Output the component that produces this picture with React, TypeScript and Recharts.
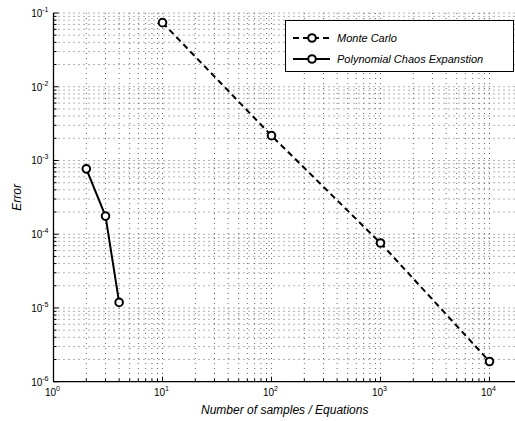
import React from 'react';
import { LineChart, Line, XAxis, YAxis, CartesianGrid, Legend } from 'recharts';

// Monte Carlo error vs number of samples
const mcSamples = [10, 100, 1000, 10000];
const mcError = [0.074, 0.00217, 0.000076, 0.00000188];

// Polynomial chaos error vs number of equations
const pceEquations = [2, 3, 4];
const pceError = [0.00077, 0.000176, 0.0000119];

const xDecades = [1, 10, 100, 1000, 10000];
const yDecades = [1e-6, 1e-5, 1e-4, 1e-3, 1e-2, 1e-1];

const FONT = '"Liberation Sans", Arial, Helvetica, sans-serif';

const mcData = mcSamples.map((x, i) => ({ x, y: mcError[i] }));
const pceData = pceEquations.map((x, i) => ({ x, y: pceError[i] }));

// decade ticks plus the 2..9 minor ticks in between
const withMinor = (decades: number[]) => {
  const out: number[] = [];
  decades.forEach((d, i) => {
    out.push(d);
    if (i < decades.length - 1) {
      for (let k = 2; k <= 9; k++) out.push(parseFloat((d * k).toPrecision(6)));
    }
  });
  return out;
};
const xTicks = withMinor(xDecades);
const yTicks = withMinor(yDecades);

const isDecade = (v: number) => Math.abs(Math.log10(v) - Math.round(Math.log10(v))) < 1e-6;
const expOf = (v: number) => Math.round(Math.log10(v));

const XTick = ({ x, y, payload, top }: any) => {
  const v = payload.value;
  const major = isDecade(v);
  const len = major ? 5 : 3;
  const dir = top ? 1 : -1;
  return (
    <g>
      <line x1={x} x2={x} y1={y} y2={y + dir * len} stroke="#000" strokeWidth={1} />
      {!top && major && (
        <text x={x - 1} y={y + 14} textAnchor="middle" fontSize={10} fontFamily={FONT} fill="#000">
          10<tspan dy={-5} fontSize={7}>{expOf(v)}</tspan>
        </text>
      )}
    </g>
  );
};

const YTick = ({ x, y, payload }: any) => {
  const v = payload.value;
  const major = isDecade(v);
  const len = major ? 5 : 3;
  return (
    <g>
      <line x1={x} x2={x + len} y1={y} y2={y} stroke="#000" strokeWidth={1} />
      {major && (
        <text x={x - 5} y={y + 4} textAnchor="end" fontSize={10} fontFamily={FONT} fill="#000">
          10<tspan dy={-5} fontSize={7}>{expOf(v)}</tspan>
        </text>
      )}
    </g>
  );
};

const XTitle = ({ viewBox }: any) => (
  <text
    x={viewBox.x + viewBox.width / 2}
    y={viewBox.y + 32}
    textAnchor="middle"
    fontSize={12}
    fontStyle="italic"
    fontFamily={FONT}
    fill="#000"
  >
    Number of samples / Equations
  </text>
);

const YTitle = ({ viewBox }: any) => {
  const cx = viewBox.x + 21;
  const cy = viewBox.y + viewBox.height / 2;
  return (
    <text
      x={cx}
      y={cy}
      transform={`rotate(-90 ${cx} ${cy})`}
      textAnchor="middle"
      fontSize={12}
      fontStyle="italic"
      fontFamily={FONT}
      fill="#000"
    >
      Error
    </text>
  );
};

const Marker = (props: any) => {
  const { cx, cy } = props;
  if (cx == null || cy == null) return null;
  return <circle cx={cx} cy={cy} r={3.8} stroke="#000" strokeWidth={2} fill="#fff" />;
};

const SERIES = [
  { name: 'Monte Carlo', dash: '6 4' },
  { name: 'Polynomial Chaos Expanstion', dash: undefined },
];

const LegendBox = () => (
  <div
    style={{
      width: 229,
      height: 52,
      border: '1px solid #000',
      background: '#fff',
      boxSizing: 'border-box',
    }}
  >
    <svg width={227} height={50}>
      {SERIES.map((s, i) => {
        const cy = 17 + i * 21;
        return (
          <g key={s.name}>
            <line x1={7} x2={44} y1={cy} y2={cy} stroke="#000" strokeWidth={2} strokeDasharray={s.dash} />
            <circle cx={26} cy={cy} r={3.8} stroke="#000" strokeWidth={2} fill="#fff" />
            <text x={51} y={cy + 4} fontSize={11} fontStyle="italic" fontFamily={FONT} fill="#000">
              {s.name}
            </text>
          </g>
        );
      })}
    </svg>
  </div>
);

export default function App() {
  return (
    <div style={{ position: 'absolute', left: 0, top: 0, width: 515, height: 421, overflow: 'hidden', background: '#fff' }}>
      <LineChart width={530} height={421} margin={{ top: 13, right: 14, bottom: 0, left: 0 }}>
        <CartesianGrid stroke="#666" strokeWidth={1} strokeDasharray="1 4" />
        <XAxis
          xAxisId={0}
          dataKey="x"
          type="number"
          scale="log"
          domain={[1, 17500]}
          allowDataOverflow
          ticks={xTicks}
          interval={0}
          height={39.3}
          tickSize={0}
          tickMargin={0}
          tick={<XTick />}
          axisLine={{ stroke: '#000', strokeWidth: 1.3 }}
          label={<XTitle />}
        />
        <XAxis
          xAxisId="top"
          orientation="top"
          dataKey="x"
          type="number"
          scale="log"
          domain={[1, 17500]}
          allowDataOverflow
          ticks={xTicks}
          interval={0}
          height={0}
          tickSize={0}
          tickMargin={0}
          tick={<XTick top />}
          axisLine={{ stroke: '#000', strokeWidth: 1.3 }}
        />
        <YAxis
          dataKey="y"
          type="number"
          scale="log"
          domain={[1e-6, 1e-1]}
          allowDataOverflow
          ticks={yTicks}
          interval={0}
          width={53.5}
          tickSize={0}
          tickMargin={0}
          tick={<YTick />}
          axisLine={{ stroke: '#000', strokeWidth: 1.3 }}
          label={<YTitle />}
        />
        <Line
          data={mcData}
          dataKey="y"
          name="Monte Carlo"
          stroke="#000"
          strokeWidth={2}
          strokeDasharray="6 4"
          dot={<Marker />}
          activeDot={false}
          isAnimationActive={false}
        />
        <Line
          data={pceData}
          dataKey="y"
          name="Polynomial Chaos Expanstion"
          stroke="#000"
          strokeWidth={2}
          dot={<Marker />}
          activeDot={false}
          isAnimationActive={false}
        />
        <Legend
          layout="horizontal"
          verticalAlign="middle"
          align="center"
          content={<LegendBox />}
          wrapperStyle={{ top: 20, left: 285, width: 229, height: 52 }}
        />
      </LineChart>
    </div>
  );
}
